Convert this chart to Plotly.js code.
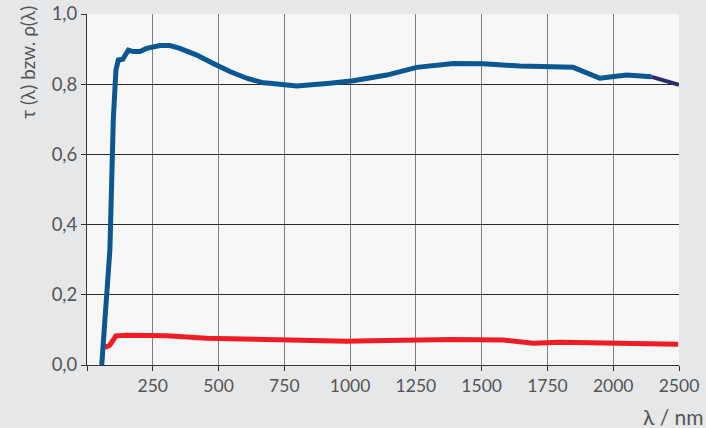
<!DOCTYPE html>
<html>
<head>
<meta charset="utf-8">
<script src="https://cdn.plot.ly/plotly-3.0.1.min.js"></script>
<style>html,body{margin:0;padding:0;background:#e6e7e9;}#chart{width:706px;height:428px;}</style>
</head>
<body>
<div id="chart"></div>
<script>
// Transmission tau (blue)
const tauX = [56, 87, 100, 110, 119, 136, 157, 176, 201, 227, 277, 315, 353, 417, 480, 543, 607, 670, 695, 797, 923, 1012, 1139, 1253, 1392, 1506, 1645, 1835, 1848, 1949, 2051, 2146];
const tauY = [0.0, 0.328, 0.70, 0.84, 0.869, 0.871, 0.897, 0.893, 0.893, 0.902, 0.91, 0.91, 0.902, 0.883, 0.859, 0.836, 0.817, 0.804, 0.803, 0.795, 0.803, 0.810, 0.826, 0.848, 0.859, 0.858, 0.852, 0.847, 0.848, 0.817, 0.826, 0.821];
// Tail segment (dark)
const tailX = [2146, 2250];
const tailY = [0.821, 0.798];
// Reflection rho (red)
const rhoX = [56, 75, 87, 110, 151, 303, 455, 607, 860, 911, 987, 1075, 1392, 1582, 1696, 1797, 1962, 2247];
const rhoY = [0.052, 0.052, 0.057, 0.083, 0.085, 0.083, 0.076, 0.074, 0.069, 0.067, 0.068, 0.069, 0.073, 0.071, 0.062, 0.065, 0.062, 0.059];
// Ticks
const xTickVals = [0, 250, 500, 750, 1000, 1250, 1500, 1750, 2000, 2250];
const xTickText = ['', '250', '500', '750', '1000', '1250', '1500', '1750', '2000', '2500'];
const yTickVals = [0, 0.2, 0.4, 0.6, 0.8, 1.0];
const yTickText = ['0,0', '0,2', '0,4', '0,6', '0,8', '1,0'];

const fontFam = 'Lato, "Open Sans", sans-serif';
const traces = [
  {x: rhoX, y: rhoY, mode: 'lines', line: {color: '#ee1c25', width: 5}, hoverinfo: 'skip'},
  {x: tauX, y: tauY, mode: 'lines', line: {color: '#0b5791', width: 5}, hoverinfo: 'skip'},
  {x: tailX, y: tailY, mode: 'lines', line: {color: '#2c2a70', width: 4}, hoverinfo: 'skip'}
];
const layout = {
  width: 706, height: 428,
  margin: {l: 87, r: 27, t: 14, b: 63},
  paper_bgcolor: '#e6e7e9',
  plot_bgcolor: '#f7f7f7',
  showlegend: false,
  font: {family: fontFam, color: '#555', size: 17},
  xaxis: {
    range: [0, 2250], tickvals: xTickVals, ticktext: xTickText,
    showgrid: true, gridcolor: '#808080', gridwidth: 1,
    showline: true, linecolor: '#333', linewidth: 1,
    ticks: 'outside', ticklen: 5, tickcolor: '#333',
    zeroline: false, tickfont: {size: 17.5, color: '#555'}
  },
  yaxis: {
    range: [0, 1.0], tickvals: yTickVals, ticktext: yTickText,
    showgrid: true, gridcolor: '#2a2a2a', gridwidth: 1,
    showline: true, linecolor: '#333', linewidth: 1,
    ticks: 'outside', ticklen: 5, tickcolor: '#333',
    zeroline: false, tickfont: {size: 18.5, color: '#555'}
  },
  annotations: [
    {text: 'τ (λ) bzw. ρ(λ)', xref: 'paper', yref: 'paper', x: -0.1, y: 1.03,
     xanchor: 'center', yanchor: 'top', textangle: -90, showarrow: false,
     font: {size: 19, color: '#555', family: fontFam}},
    {text: 'λ / nm', xref: 'paper', yref: 'paper', x: 1.045, y: -0.105,
     xanchor: 'right', yanchor: 'top', showarrow: false,
     font: {size: 21, color: '#555', family: fontFam}}
  ]
};
Plotly.newPlot('chart', traces, layout, {staticPlot: true});
</script>
</body>
</html>
